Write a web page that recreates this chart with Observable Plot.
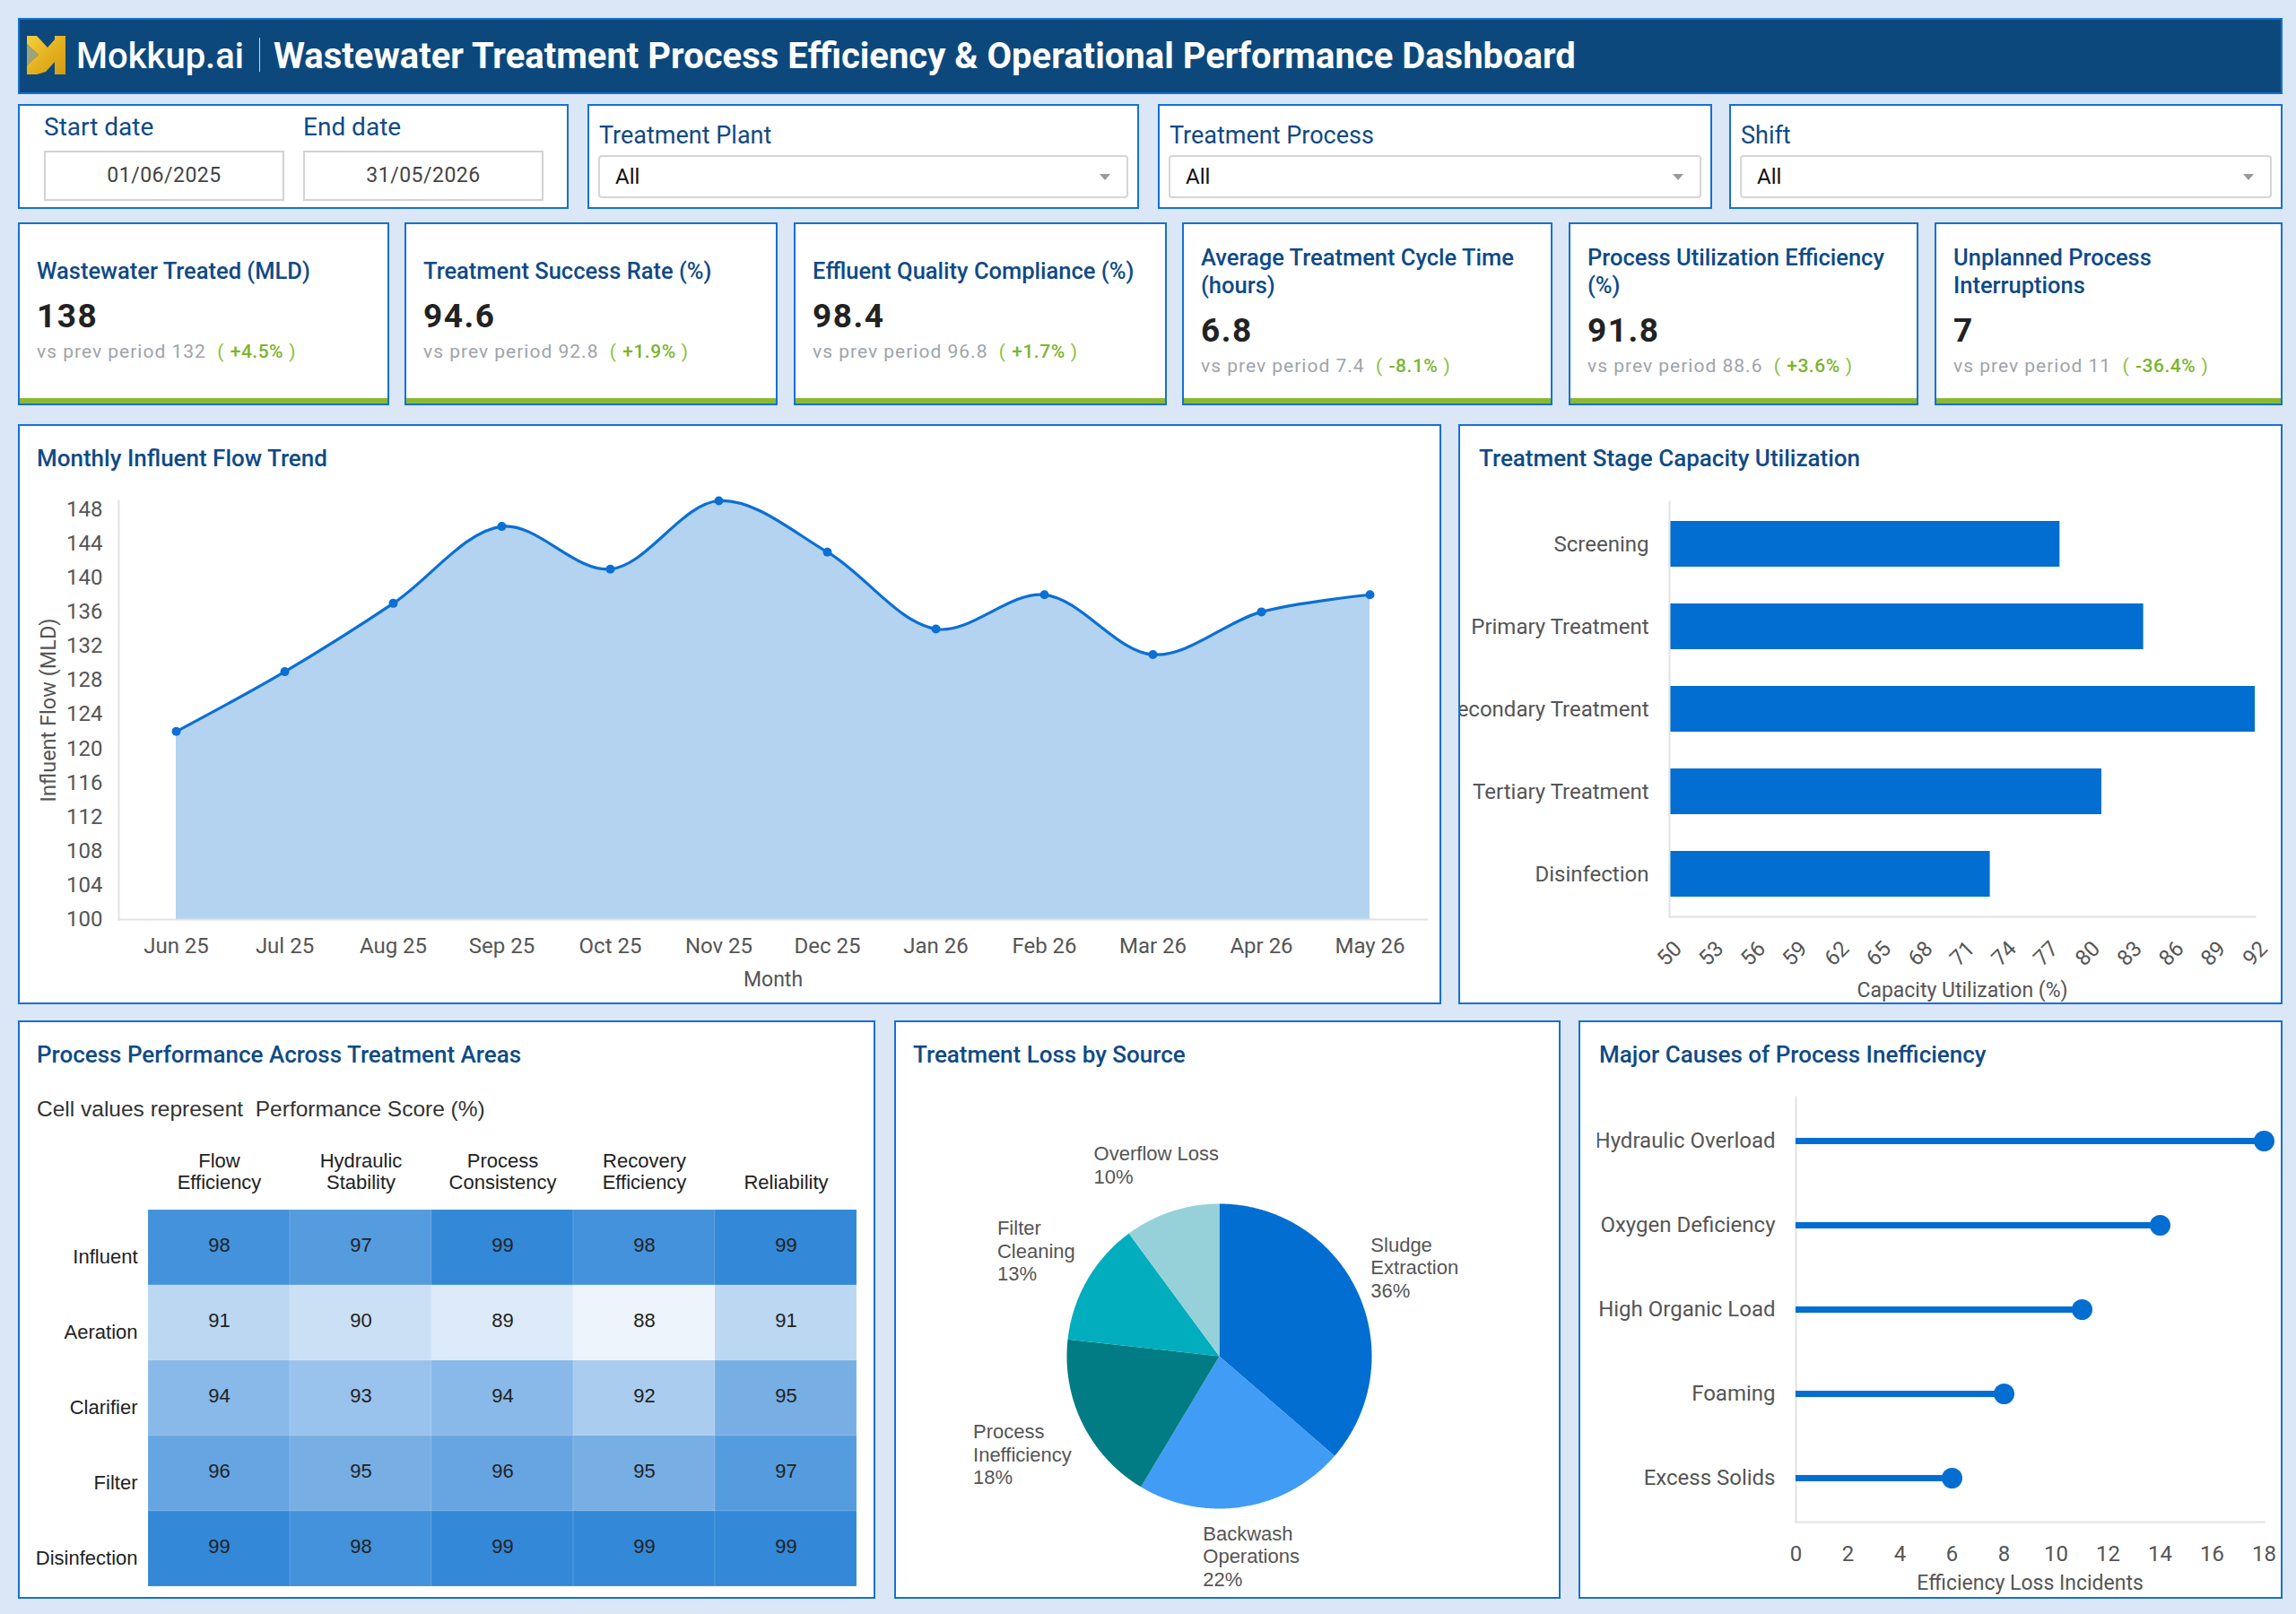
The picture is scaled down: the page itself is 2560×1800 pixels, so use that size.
<!DOCTYPE html>
<html>
<head>
<meta charset="utf-8">
<title>Wastewater Treatment Process Efficiency &amp; Operational Performance Dashboard</title>
<script src="https://cdn.jsdelivr.net/npm/d3@7"></script>
<script src="https://cdn.jsdelivr.net/npm/@observablehq/plot@0.6"></script>
<style>
  html, body { margin: 0; padding: 0; }
  body { width: 2560px; height: 1800px; background: #dbe7f6; position: relative; overflow: hidden;
         font-family: Roboto, "Noto Sans", sans-serif; }
  .panel { position: absolute; background: #fff; border: 2px solid #1670d3; box-sizing: border-box; overflow: hidden; }
  .panel-title { position: absolute; left: 19px; top: 20px; font-size: 26px; line-height: 32px; font-weight: 500;
                 color: #0f4a86; white-space: nowrap; }
  .chart { position: absolute; }
  #header { left: 20px; top: 20px; width: 2525px; height: 85px; background: #0d487d; }
  #header .brand { position: absolute; left: 63px; top: 0; line-height: 81px; font-size: 40px; font-weight: 500; color: #fff; }
  #header .sep { position: absolute; left: 267px; top: 20px; width: 1px; height: 38px; background: #c9d6e6; }
  #header .name { position: absolute; left: 283px; top: 0; line-height: 81px; font-size: 40px; font-weight: 700; color: #fff; white-space: nowrap; }
  #header svg { position: absolute; left: 8px; top: 18px; }
  .flabel { position: absolute; font-size: 27px; line-height: 30px; color: #0f4a86; white-space: nowrap; }
  .datebox { position: absolute; border: 2px solid #d2d2d2; box-sizing: border-box; text-align: center;
             font-size: 23px; letter-spacing: 0.5px; color: #444; }
  .select { position: absolute; border: 2px solid #d6d6d6; border-radius: 4px; box-sizing: border-box;
            font-size: 24px; color: #111; }
  .select span { position: absolute; left: 17px; top: 0; line-height: 44px; }
  .select i { position: absolute; right: 18px; top: 19px; width: 0; height: 0;
              border-left: 6px solid transparent; border-right: 6px solid transparent; border-top: 7px solid #9a9a9a; }
  .kpi { display: flex; flex-direction: column; justify-content: center; padding: 0 20px 6px 19px; }
  .kpi::after { content: ""; position: absolute; left: 0; right: 0; bottom: 0; height: 6px; background: #8ab934; }
  .kpi .t { font-size: 25.5px; line-height: 31px; font-weight: 500; color: #0f4a86; }
  .kpi .v { font-size: 37px; line-height: 40px; font-weight: 700; color: #222; letter-spacing: 1.5px; margin-top: 15px; }
  .kpi .c { font-size: 21px; line-height: 30px; color: #9ea4aa; letter-spacing: 1px; margin-top: 4px; white-space: nowrap; }
  .kpi .c .g { color: #8cc040; }
  .kpi .c .g b { font-weight: 500; color: #7cb32e; letter-spacing: 0.5px; }
</style>
</head>
<body>
<div id="header" class="panel">
  <svg width="43" height="43" viewBox="0 0 43 43">
    <defs>
      <linearGradient id="gold" x1="0" y1="0" x2="1" y2="1">
        <stop offset="0" stop-color="#f7cf3f"/><stop offset="0.5" stop-color="#e5b21f"/><stop offset="1" stop-color="#d49b14"/>
      </linearGradient>
    </defs>
    <path d="M0,0 L11,0 L23,13 L31,4 L31,0 L43,0 L43,43 L31,43 L31,29 L21,40 L11,43 L0,43 L0,33 L13,21 L0,9 Z" fill="url(#gold)"/>
    <path d="M0,9 L13,21 L0,33 Z" fill="#fbe27a" opacity="0.6"/>
  </svg>
  <div class="brand">Mokkup.ai</div>
  <div class="sep"></div>
  <div class="name">Wastewater Treatment Process Efficiency &amp; Operational Performance Dashboard</div>
</div>

<div id="filters"></div>
<div id="kpis"></div>

<div class="panel" id="p-flow" style="left:20px;top:473px;width:1587px;height:647px">
  <div class="panel-title">Monthly Influent Flow Trend</div>
  <div class="chart" id="c-flow" style="left:0;top:50px"></div>
</div>
<div class="panel" id="p-stage" style="left:1626px;top:473px;width:919px;height:647px">
  <div class="panel-title" style="left:21px">Treatment Stage Capacity Utilization</div>
  <div class="chart" id="c-stage" style="left:0;top:55px"></div>
</div>
<div class="panel" id="p-heat" style="left:20px;top:1138px;width:956px;height:645px">
  <div class="panel-title">Process Performance Across Treatment Areas</div>
  <div id="heat-sub" style="position:absolute;left:19px;top:82px;font-family:'Liberation Sans',Arial,sans-serif;font-size:24.5px;line-height:30px;color:#333;white-space:pre">Cell values represent  Performance Score (%)</div>
  <div class="chart" id="c-heat" style="left:0;top:130px"></div>
</div>
<div class="panel" id="p-loss" style="left:997px;top:1138px;width:743px;height:645px">
  <div class="panel-title" style="left:19px">Treatment Loss by Source</div>
  <div class="chart" id="c-loss" style="left:0;top:90px"></div>
</div>
<div class="panel" id="p-cause" style="left:1760px;top:1138px;width:785px;height:645px">
  <div class="panel-title" style="left:21px">Major Causes of Process Inefficiency</div>
  <div class="chart" id="c-cause" style="left:19px;top:60px"></div>
</div>

<script>
// ---- Data ----
const startDate = "01/06/2025";
const endDate = "31/05/2026";
const filterNames = ["Treatment Plant", "Treatment Process", "Shift"];

const kpiTitles = ["Wastewater Treated (MLD)", "Treatment Success Rate (%)", "Effluent Quality Compliance (%)",
                   "Average Treatment Cycle Time (hours)", "Process Utilization Efficiency (%)", "Unplanned Process Interruptions"];
const kpiValues = ["138", "94.6", "98.4", "6.8", "91.8", "7"];
const kpiPrev = ["132", "92.8", "96.8", "7.4", "88.6", "11"];
const kpiChange = ["+4.5%", "+1.9%", "+1.7%", "-8.1%", "+3.6%", "-36.4%"];

const months = ["Jun 25", "Jul 25", "Aug 25", "Sep 25", "Oct 25", "Nov 25", "Dec 25", "Jan 26", "Feb 26", "Mar 26", "Apr 26", "May 26"];
const influentFlow = [122, 129, 137, 146, 141, 149, 143, 134, 138, 131, 136, 138];

const stages = ["Screening", "Primary Treatment", "Secondary Treatment", "Tertiary Treatment", "Disinfection"];
const capacityUtil = [78, 84, 92, 81, 73];

const areas = ["Influent", "Aeration", "Clarifier", "Filter", "Disinfection"];
const metrics = ["Flow Efficiency", "Hydraulic Stability", "Process Consistency", "Recovery Efficiency", "Reliability"];
const perfInfluent = [98, 97, 99, 98, 99];
const perfAeration = [91, 90, 89, 88, 91];
const perfClarifier = [94, 93, 94, 92, 95];
const perfFilter = [96, 95, 96, 95, 97];
const perfDisinfection = [99, 98, 99, 99, 99];

const lossSources = ["Sludge Extraction", "Backwash Operations", "Process Inefficiency", "Filter Cleaning", "Overflow Loss"];
const lossLabels = ["Sludge\nExtraction", "Backwash\nOperations", "Process\nInefficiency", "Filter\nCleaning", "Overflow Loss"];
const lossShares = [36, 22, 18, 13, 10];
const lossColors = ["#026ed1", "#409cf5", "#017c84", "#02adbe", "#96d1d9"];

const causes = ["Hydraulic Overload", "Oxygen Deficiency", "High Organic Load", "Foaming", "Excess Solids"];
const incidents = [18, 14, 11, 8, 6];

// ---- Filter bar ----
const filters = document.getElementById("filters");
filters.innerHTML = `
  <div class="panel" style="left:20px;top:116px;width:614px;height:117px">
    <div class="flabel" style="left:27px;top:9px;font-size:28px">Start date</div>
    <div class="datebox" style="left:27px;top:50px;width:268px;height:56px;line-height:52px">${startDate}</div>
    <div class="flabel" style="left:316px;top:9px;font-size:28px">End date</div>
    <div class="datebox" style="left:316px;top:50px;width:268px;height:56px;line-height:52px">${endDate}</div>
  </div>` +
  [[655, 615], [1291, 618], [1928, 617]].map(([left, w], i) => `
  <div class="panel" style="left:${left}px;top:116px;width:${w}px;height:117px">
    <div class="flabel" style="left:11px;top:18px">${filterNames[i]}</div>
    <div class="select" style="left:10px;top:55px;width:${w - 24}px;height:48px"><span>All</span><i></i></div>
  </div>`).join("");

// ---- KPI cards ----
const kpiBoxes = [[20, 414], [451, 416], [885, 416], [1318, 413], [1749, 390], [2157, 388]];
document.getElementById("kpis").innerHTML = kpiBoxes.map(([left, w], i) => `
  <div class="panel kpi" style="left:${left}px;top:248px;width:${w}px;height:204px">
    <div class="t">${kpiTitles[i]}</div>
    <div class="v">${kpiValues[i]}</div>
    <div class="c">vs prev period ${kpiPrev[i]}&nbsp; <span class="g">( <b>${kpiChange[i]}</b> )</span></div>
  </div>`).join("");

const baseStyle = {background: "transparent", fontFamily: "Roboto", fontSize: "24px", color: "#555", overflow: "hidden"};

// ---- Monthly influent flow (area + smooth line) ----
const flowData = months.map((m, i) => ({month: m, flow: influentFlow[i]}));
const flowPlot = Plot.plot({
  width: 1583, height: 593,
  marginLeft: 110, marginRight: 14, marginTop: 33, marginBottom: 93,
  style: baseStyle,
  x: {type: "point", domain: months, padding: 0.5},
  y: {domain: [100, 149]},
  marks: [
    Plot.areaY(flowData, {x: "month", y: "flow", curve: "catmull-rom", fill: "#b3d3f1", clip: true}),
    Plot.frame({anchor: "left", stroke: "#e2e2e2", strokeWidth: 2}),
    Plot.frame({anchor: "bottom", stroke: "#e2e2e2", strokeWidth: 2}),
    Plot.lineY(flowData, {x: "month", y: "flow", curve: "catmull-rom", stroke: "#0b6fd4", strokeWidth: 3.2}),
    Plot.dot(flowData, {x: "month", y: "flow", r: 5, fill: "#0b6fd4"}),
    Plot.axisY({ticks: d3.range(100, 149, 4), tickSize: 0, tickPadding: 18, label: null}),
    Plot.axisX({tickSize: 0, tickPadding: 20, label: null}),
    Plot.text(["Influent Flow (MLD)"], {text: d => d, frameAnchor: "left", dx: -78, rotate: -90,
                                        textAnchor: "middle", lineAnchor: "middle", fontSize: 23.5, fill: "#555"}),
    Plot.text(["Month"], {text: d => d, frameAnchor: "bottom", dy: 67, lineAnchor: "middle", fontSize: 23, fill: "#555"})
  ]
});
document.getElementById("c-flow").append(flowPlot);

// ---- Treatment stage capacity utilization (horizontal bars) ----
const stageData = stages.map((s, i) => ({stage: s, util: capacityUtil[i]}));
const stageTicks = d3.range(50, 93, 3);
const stagePlot = Plot.plot({
  width: 915, height: 588,
  marginLeft: 233, marginRight: 29, marginTop: 29, marginBottom: 96,
  style: baseStyle,
  x: {domain: [50, 92], axis: null},
  y: {domain: stages, paddingInner: 0.45, paddingOuter: 0.225},
  marks: [
    Plot.barX(stageData, {x: "util", y: "stage", fill: "#026ed1", clip: true}),
    Plot.frame({anchor: "left", stroke: "#e2e2e2", strokeWidth: 2}),
    Plot.frame({anchor: "bottom", stroke: "#e2e2e2", strokeWidth: 2}),
    Plot.axisY({tickSize: 0, tickPadding: 23, label: null}),
    Plot.text(stageTicks, {x: d => d, text: d => String(d), frameAnchor: "bottom", dy: 41, rotate: -45,
                           textAnchor: "middle", lineAnchor: "middle", fill: "#555"}),
    Plot.text(["Capacity Utilization (%)"], {text: d => d, frameAnchor: "bottom", dy: 82, lineAnchor: "middle",
                                             fontSize: 23, fill: "#555"})
  ]
});
document.getElementById("c-stage").append(stagePlot);

// ---- Process performance heatmap ----
const perfRows = [perfInfluent, perfAeration, perfClarifier, perfFilter, perfDisinfection];
const heatData = areas.flatMap((a, i) => metrics.map((m, j) => ({area: a, metric: m, score: perfRows[i][j]})));
const heatPlot = Plot.plot({
  width: 952, height: 511,
  marginLeft: 143, marginRight: 19, marginTop: 77, marginBottom: 10,
  style: {...baseStyle, fontFamily: "Liberation Sans", fontSize: "22px", color: "#222"},
  x: {domain: metrics, padding: 0, axis: null},
  y: {domain: areas, padding: 0, axis: null},
  color: {type: "linear", domain: [88, 99], range: ["#eef4fc", "#3388d8"]},
  marks: [
    Plot.cell(heatData, {x: "metric", y: "area", fill: "score", stroke: "#ffffff", strokeOpacity: 0.12}),
    Plot.text(heatData, {x: "metric", y: "area", text: d => String(d.score), dy: -3, fill: "#222", fontSize: 22}),
    Plot.axisX({anchor: "top", tickSize: 0, tickPadding: 22, label: null, lineHeight: 1.09,
                tickFormat: d => d.replace(" ", "\n")}),
    Plot.axisY({tickSize: 0, tickPadding: 12, dy: 10, label: null})
  ]
});
document.getElementById("c-heat").append(heatPlot);

// ---- Treatment loss by source (pie built from polygon slices) ----
const lossData = lossSources.map((s, i) => ({source: s, share: lossShares[i]}));
const pieR = 170, pieW = 739, pieH = 550, pieCx = 360, pieCy = 282;
const labelFontPx = 22, labelLineHeight = 1.16, labelGap = 9;
const arcs = d3.pie().sort(null).value(d => d.share)(lossData);
const slicePts = arcs.flatMap(a => {
  const n = Math.max(2, Math.ceil((a.endAngle - a.startAngle) / (Math.PI / 360)));
  const pts = [{source: a.data.source, px: 0, py: 0}];
  for (let k = 0; k <= n; k++) {
    const t = a.startAngle + (a.endAngle - a.startAngle) * k / n;
    pts.push({source: a.data.source, px: Math.sin(t), py: Math.cos(t)});
  }
  pts.push({source: a.data.source, px: 0, py: 0});
  return pts;
});
// Outside labels: each text block sits just beyond the rim along its slice's mid-angle,
// pushed out by the block's own half-extent in that direction.
const measure = document.createElement("canvas").getContext("2d");
measure.font = `${labelFontPx}px 'Liberation Sans'`;
const labelPts = arcs.map((a, i) => {
  const mid = (a.startAngle + a.endAngle) / 2;
  const text = lossLabels[i] + "\n" + a.data.share + "%";
  const lines = text.split("\n");
  const w = d3.max(lines, s => measure.measureText(s).width);
  const h = lines.length * labelFontPx * labelLineHeight;
  const s = Math.sin(mid), c = Math.cos(mid);
  const dist = pieR + labelGap + Math.abs(s) * w / 2 + Math.abs(c) * h / 2;
  return {text, px: (s * dist - w / 2) / pieR, py: c * dist / pieR};
});
const lossPlot = Plot.plot({
  width: pieW, height: pieH, margin: 0,
  style: {...baseStyle, fontFamily: "Liberation Sans", fontSize: "22px"},
  x: {domain: [-pieCx / pieR, (pieW - pieCx) / pieR], axis: null},
  y: {domain: [-(pieH - pieCy) / pieR, pieCy / pieR], axis: null},
  color: {domain: lossSources, range: lossColors},
  marks: [
    Plot.line(slicePts, {x: "px", y: "py", z: "source", fill: "source", stroke: "none"}),
    Plot.text(labelPts, {x: "px", y: "py", text: "text", textAnchor: "start", lineAnchor: "middle",
                         lineHeight: labelLineHeight, fill: "#555", fontSize: labelFontPx})
  ]
});
document.getElementById("c-loss").append(lossPlot);

// ---- Major causes of inefficiency (lollipop) ----
const causeData = causes.map((c, i) => ({cause: c, count: incidents[i]}));
const causePlot = Plot.plot({
  width: 762, height: 581,
  marginLeft: 221, marginRight: 19, marginTop: 23, marginBottom: 84,
  style: baseStyle,
  x: {domain: [0, 18]},
  y: {type: "point", domain: causes, padding: 0.5},
  marks: [
    Plot.frame({anchor: "left", stroke: "#e2e2e2", strokeWidth: 2}),
    Plot.frame({anchor: "bottom", stroke: "#e2e2e2", strokeWidth: 2}),
    Plot.ruleY(causeData, {y: "cause", x1: 0, x2: "count", stroke: "#026ed1", strokeWidth: 7}),
    Plot.dot(causeData, {y: "cause", x: "count", r: 11.5, fill: "#026ed1"}),
    Plot.axisY({tickSize: 0, tickPadding: 23, label: null}),
    Plot.axisX({ticks: d3.range(0, 19, 2), tickSize: 0, tickPadding: 26, label: null}),
    Plot.text(["Efficiency Loss Incidents"], {text: d => d, frameAnchor: "bottom", dy: 68, lineAnchor: "middle",
                                              fontSize: 23, fill: "#555"})
  ]
});
document.getElementById("c-cause").append(causePlot);
</script>
</body>
</html>
